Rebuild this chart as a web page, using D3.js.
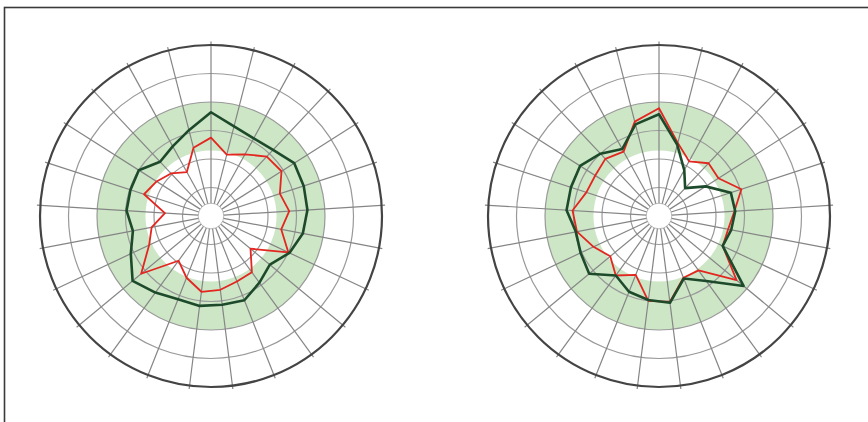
<!DOCTYPE html>
<html>
<head>
<meta charset="utf-8">
<script src="https://cdn.jsdelivr.net/npm/d3@7"></script>
<style>
  html, body { margin: 0; padding: 0; background: #fff; }
  svg { display: block; }
</style>
</head>
<body>
<div id="app"></div>
<script>
// 25 spokes, clockwise from the top (360 / 25 = 14.4 degrees apart)
const spokeCount = 25;

// ring ticks (one ring every 10 units)
const ringTicks = [10, 20, 30, 40, 50, 60];

// shaded band (lower, upper)
const bandRange = [23, 40];

// left chart
const leftGreen = [36.4, 32.5, 31.1, 31.8, 34.6, 34.2, 33.9, 32.8, 30.4, 26.8, 28.9, 31.8, 31.4,
                   31.8, 31.4, 33.2, 35.7, 31.1, 27.9, 29.7, 29.7, 30, 26.1, 27.9, 31.1];
const leftRed = [27.5, 22.2, 24.7, 28.6, 29.3, 25.4, 27.5, 25.1, 30, 18, 24.4, 24.7, 26.1,
                 26.8, 23.3, 19.4, 31.8, 24, 21.2, 16.2, 24.7, 22.6, 20.5, 17.6, 24.7];

// right chart
const rightGreen = [35.7, 25.8, 18.4, 13.4, 19.4, 26.5, 26.8, 25.8, 24.7, 38.5, 28.2, 23.6, 30.7,
                    29.7, 28.6, 25.8, 31.8, 30.4, 29.7, 32.5, 32.5, 32.8, 30, 26.8, 33.2];
const rightRed = [37.8, 26.5, 21.9, 25.4, 24.7, 30.4, 26.5, 24.7, 24.7, 35.3, 23.6, 23.3, 30.4,
                  30, 22.2, 25.8, 22.2, 25.4, 29.3, 30.4, 26.8, 26.5, 27.5, 25.8, 34.2];

const w = 868;
const h = 422;

const svg = d3.select('#app')
  .append('svg')
  .attr('width', w)
  .attr('height', h);

svg.append('rect')
  .attr('width', w)
  .attr('height', h)
  .attr('fill', '#fff');

// frame: only top and left edges show
svg.append('rect')
  .attr('x', 4.5)
  .attr('y', 7.5)
  .attr('width', w + 10)
  .attr('height', h + 10)
  .attr('fill', 'none')
  .attr('stroke', '#3a3a3a')
  .attr('stroke-width', 1.6);

const rScale = d3.scaleLinear()
  .domain([0, 60])
  .range([0, 171]);

const angleScale = d3.scaleLinear()
  .domain([0, spokeCount])
  .range([0, 2 * Math.PI]);

const spokes = d3.range(spokeCount);

const holeValue = 4.5;
const spokeEnd = 61.2;

function drawChart(cx, cy, greenValues, redValues) {
  const g = svg.append('g')
    .attr('transform', 'translate(' + cx + ',' + cy + ')');

  // green band
  g.append('path')
    .attr('d', d3.arc()
      .innerRadius(rScale(bandRange[0]))
      .outerRadius(rScale(bandRange[1]))
      .startAngle(0)
      .endAngle(2 * Math.PI)())
    .attr('fill', '#cde6c6');

  // rings
  g.selectAll('.ring')
    .data(ringTicks.slice(0, -1))
    .enter()
    .append('circle')
    .attr('class', 'ring')
    .attr('r', (d) => rScale(d))
    .attr('fill', 'none')
    .attr('stroke', '#999')
    .attr('stroke-width', 1.2);

  // inner hole edge
  g.append('circle')
    .attr('r', rScale(holeValue))
    .attr('fill', 'none')
    .attr('stroke', '#aaa')
    .attr('stroke-width', 0.8);

  // spokes
  g.selectAll('.spoke')
    .data(spokes)
    .enter()
    .append('line')
    .attr('class', 'spoke')
    .attr('x1', (d) => rScale(holeValue) * Math.sin(angleScale(d)))
    .attr('y1', (d) => -rScale(holeValue) * Math.cos(angleScale(d)))
    .attr('x2', (d) => rScale(spokeEnd) * Math.sin(angleScale(d)))
    .attr('y2', (d) => -rScale(spokeEnd) * Math.cos(angleScale(d)))
    .attr('stroke', '#858585')
    .attr('stroke-width', 1.2);

  // outer circle
  g.append('circle')
    .attr('r', rScale(ringTicks[ringTicks.length - 1]))
    .attr('fill', 'none')
    .attr('stroke', '#444')
    .attr('stroke-width', 2.2);

  const radial = d3.lineRadial()
    .angle((d, i) => angleScale(i))
    .radius((d) => rScale(d))
    .curve(d3.curveLinearClosed);

  g.append('path')
    .attr('d', radial(redValues))
    .attr('fill', 'none')
    .attr('stroke', '#e3261f')
    .attr('stroke-width', 1.8)
    .attr('stroke-linejoin', 'round');

  g.append('path')
    .attr('d', radial(greenValues))
    .attr('fill', 'none')
    .attr('stroke', '#1d4a2a')
    .attr('stroke-width', 2.6)
    .attr('stroke-linejoin', 'round');
}

drawChart(211, 216, leftGreen, leftRed);
drawChart(659, 216, rightGreen, rightRed);
</script>
</body>
</html>
